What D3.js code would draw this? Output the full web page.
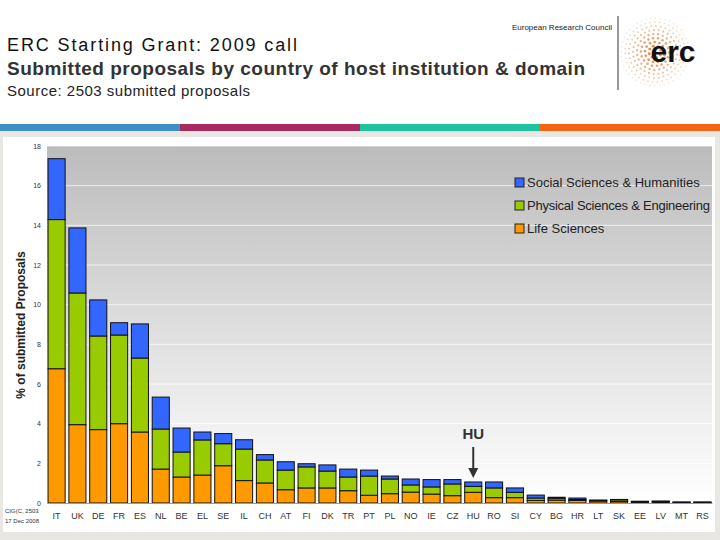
<!DOCTYPE html>
<html>
<head>
<meta charset="utf-8">
<script src="https://cdn.jsdelivr.net/npm/d3@7"></script>
<style>
body { margin: 0; background: #fff; }
svg text { font-family: "Liberation Sans", Arial, sans-serif; }
</style>
</head>
<body>
<script>
// data, % of submitted proposals
var countries = ["IT","UK","DE","FR","ES","NL","BE","EL","SE","IL","CH","AT","FI","DK","TR","PT","PL","NO","IE","CZ","HU","RO","SI","CY","BG","HR","LT","SK","EE","LV","MT","RS"];
var lifeSci = [6.77,3.95,3.70,4.00,3.58,1.71,1.31,1.41,1.88,1.13,1.01,0.67,0.76,0.76,0.62,0.39,0.47,0.55,0.45,0.37,0.54,0.27,0.27,0.13,0.15,0.13,0.10,0.08,0.04,0.05,0.03,0.03];
var physEng = [7.52,6.64,4.72,4.47,3.73,2.02,1.26,1.77,1.11,1.59,1.16,0.99,1.06,0.85,0.69,0.97,0.74,0.36,0.36,0.59,0.30,0.49,0.27,0.12,0.09,0.05,0.03,0.08,0.03,0.03,0.01,0.01];
var socHum = [3.07,3.28,1.82,0.62,1.72,1.61,1.21,0.40,0.51,0.47,0.27,0.42,0.16,0.31,0.40,0.30,0.15,0.30,0.37,0.22,0.22,0.30,0.22,0.15,0.05,0.07,0.02,0.02,0.02,0.02,0.01,0.01];
var yTicks = [0,2,4,6,8,10,12,14,16,18];
var domains = ["Social Sciences & Humanities","Physical Sciences & Engineering","Life Sciences"];
var colors = {ls: "#ff9900", pe: "#99cc00", sh: "#3366ff"};

var svg = d3.select("body").append("svg").attr("width", 720).attr("height", 540);

// header
svg.append("text").attr("x", 7).attr("y", 51).attr("font-size", 18).attr("fill", "#111")
    .attr("textLength", 290).text("ERC Starting Grant: 2009 call");
svg.append("text").attr("x", 7).attr("y", 75).attr("font-size", 19).attr("font-weight", "bold").attr("fill", "#333")
    .attr("textLength", 578).text("Submitted proposals by country of host institution & domain");
svg.append("text").attr("x", 7).attr("y", 96).attr("font-size", 15).attr("fill", "#222")
    .attr("textLength", 243).text("Source: 2503 submitted proposals");
svg.append("text").attr("x", 612).attr("y", 30).attr("font-size", 8).attr("text-anchor", "end").attr("fill", "#222")
    .text("European Research Council");
svg.append("line").attr("x1", 618).attr("x2", 618).attr("y1", 16).attr("y2", 90).attr("stroke", "#333");

// logo dots
var logo = svg.append("g").attr("transform", "translate(655,52)");
for (var r = 6; r <= 36; r += 4) {
  var n = Math.round(r * 1.3);
  for (var k = 0; k < n; k++) {
    var a = k / n * 2 * Math.PI + r;
    logo.append("circle").attr("cx", r * Math.cos(a)).attr("cy", r * Math.sin(a))
      .attr("r", 1.6 - r / 40).attr("fill", "#e07a30").attr("opacity", 1 - r / 45);
  }
}
logo.append("text").attr("x", 18).attr("y", 10).attr("text-anchor", "middle").attr("font-size", 30)
    .attr("font-weight", "bold").attr("fill", "#111").text("erc");

// stripe
var stripe = ["#3d8fc6","#a82a5e","#1ec29c","#f26514"];
svg.selectAll(".stripe").data(stripe).enter().append("rect")
    .attr("x", (d, i) => i * 180).attr("y", 124).attr("width", 180).attr("height", 7).attr("fill", d => d);
svg.append("rect").attr("x", 0).attr("y", 131).attr("width", 720).attr("height", 409).attr("fill", "#e9e7e3");
svg.append("rect").attr("x", 3).attr("y", 137).attr("width", 712).attr("height", 395).attr("fill", "#fff");

// plot
var x0 = 47, x1 = 712, yTop = 146, yBot = 503;
var defs = svg.append("defs");
var grad = defs.append("linearGradient").attr("id", "bg").attr("x1", 0).attr("x2", 0).attr("y1", 0).attr("y2", 1);
grad.append("stop").attr("offset", "0%").attr("stop-color", "#bcbcbc");
grad.append("stop").attr("offset", "100%").attr("stop-color", "#ffffff");
svg.append("rect").attr("x", x0).attr("y", yTop).attr("width", x1 - x0).attr("height", yBot - yTop).attr("fill", "url(#bg)");

var x = d3.scaleBand().domain(countries).range([x0, x1]).paddingInner(0.18).paddingOuter(0.05);
var y = d3.scaleLinear().domain([0, 18]).range([yBot, yTop]);

svg.selectAll(".grid").data(yTicks.slice(1)).enter().append("line")
    .attr("x1", x0).attr("x2", x1).attr("y1", d => y(d)).attr("y2", d => y(d))
    .attr("stroke", "#fff").attr("stroke-opacity", 0.7);

var rows = countries.map((c, i) => ({c: c, ls: lifeSci[i], pe: physEng[i], sh: socHum[i]}));
var stack = d3.stack().keys(["ls","pe","sh"])(rows);
svg.selectAll(".layer").data(stack).enter().append("g")
    .attr("fill", d => colors[d.key])
    .selectAll("rect").data(d => d).enter().append("rect")
    .attr("x", d => x(d.data.c)).attr("width", x.bandwidth())
    .attr("y", d => y(d[1])).attr("height", d => y(d[0]) - y(d[1]))
    .attr("stroke", "#111").attr("stroke-width", 1);

var yAxis = svg.append("g").attr("transform", "translate(" + x0 + ",0)")
    .call(d3.axisLeft(y).tickValues(yTicks).tickSize(0).tickPadding(6));
yAxis.select(".domain").remove();
yAxis.selectAll("text").attr("font-size", 7).attr("fill", "#333");

var xAxis = svg.append("g").attr("transform", "translate(0," + yBot + ")")
    .call(d3.axisBottom(x).tickSize(0).tickPadding(10));
xAxis.select(".domain").attr("stroke", "#999");
xAxis.selectAll("text").attr("font-size", 9).attr("fill", "#333");

svg.append("text").attr("transform", "translate(25,325) rotate(-90)").attr("text-anchor", "middle")
    .attr("font-size", 12).attr("font-weight", "bold").attr("fill", "#222").text("% of submitted Proposals");
svg.append("text").attr("x", 5).attr("y", 513).attr("font-size", 6).attr("fill", "#333").text("CIG(C, 2503");
svg.append("text").attr("x", 5).attr("y", 523).attr("font-size", 6).attr("fill", "#333").text("17 Dec 2008");

// legend
var lg = svg.append("g").attr("transform", "translate(515,178)");
domains.forEach((d, i) => {
  lg.append("rect").attr("x", 0).attr("y", i * 23).attr("width", 9).attr("height", 9)
    .attr("fill", [colors.sh, colors.pe, colors.ls][i]).attr("stroke", "#222");
  lg.append("text").attr("x", 12).attr("y", i * 23 + 9).attr("font-size", 13).attr("fill", "#222")
    .attr("textLength", i == 1 ? 183 : null).text(d);
});

// HU marker
var hx = x("HU") + x.bandwidth() / 2;
svg.append("text").attr("x", hx).attr("y", 439).attr("text-anchor", "middle").attr("font-size", 15)
    .attr("font-weight", "bold").attr("fill", "#333").text("HU");
svg.append("line").attr("x1", hx).attr("x2", hx).attr("y1", 447).attr("y2", 470).attr("stroke", "#333").attr("stroke-width", 2);
svg.append("path").attr("d", `M${hx - 5},468 L${hx + 5},468 L${hx},478 Z`).attr("fill", "#333");
</script>
</body>
</html>
